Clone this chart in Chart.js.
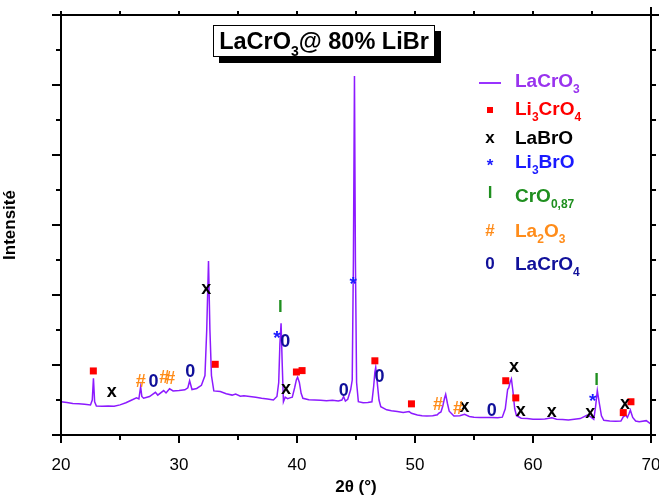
<!DOCTYPE html>
<html>
<head>
<meta charset="utf-8">
<script src="https://cdn.jsdelivr.net/npm/chart.js@4"></script>
<style>
  body { margin: 0; background: #fff; }
  #wrap { position: relative; width: 659px; height: 499px; font-family: "Liberation Sans", Arial, sans-serif; }
  #wrap canvas { position: absolute; left: 0; top: 0; }
  .titlebox {
    position: absolute; left: 213px; top: 25px; width: 220px; height: 30px;
    border: 1.5px solid #000; background: #fff; box-shadow: 6px 6px 0 #000;
    font-weight: bold; font-size: 23.5px; line-height: 30px; text-align: center;
  }
  .titlebox sub { font-size: 14px; vertical-align: -7px; }
  .leg { position: absolute; left: 470px; height: 22px; line-height: 22px; font-weight: bold; font-size: 19px; white-space: nowrap; }
  .leg .sym { position: absolute; left: 0; width: 40px; text-align: center; font-size: 17px; }
  .leg .lab { position: absolute; left: 45px; }
  .leg sub { font-size: 12px; vertical-align: -6px; }
  .legline { position: absolute; left: 479px; top: 82px; width: 22px; height: 2px; background: #9933ff; }
</style>
</head>
<body>
<div id="wrap">
  <canvas id="c" width="659" height="499"></canvas>
  <div class="titlebox">LaCrO<sub>3</sub>@ 80% LiBr</div>
  <div class="legline"></div>
  <div class="leg" style="top:70px;color:#9933ee"><span class="lab">LaCrO<sub>3</sub></span></div>
  <div class="leg" style="top:98px;color:#ff0000"><span class="sym"><span style="display:inline-block;width:6px;height:6px;background:#ff0000;vertical-align:middle"></span></span><span class="lab">Li<sub>3</sub>CrO<sub>4</sub></span></div>
  <div class="leg" style="top:127px;color:#000"><span class="sym">x</span><span class="lab">LaBrO</span></div>
  <div class="leg" style="top:151px;color:#1a1aff"><span class="sym" style="top:4px">*</span><span class="lab">Li<sub>3</sub>BrO</span></div>
  <div class="leg" style="top:185px;color:#1f8f1f"><span class="sym" style="top:-3px">l</span><span class="lab">CrO<sub>0,87</sub></span></div>
  <div class="leg" style="top:220px;color:#ff8c1a"><span class="sym">#</span><span class="lab">La<sub>2</sub>O<sub>3</sub></span></div>
  <div class="leg" style="top:253px;color:#10109a"><span class="sym">0</span><span class="lab">LaCrO<sub>4</sub></span></div>
</div>
<script>
// XRD pattern (2theta in degrees, intensity in arbitrary units)
const twoTheta = [
  20.0, 20.5, 21.0, 21.5, 22.0, 22.5, 22.65, 22.75, 22.85, 23.0, 23.5, 24.0, 24.5, 25.0, 25.5,
  26.0, 26.4, 26.6, 26.75, 26.85, 27.0, 27.5, 28.0, 28.2, 28.7, 28.9, 29.2, 29.5, 30.0, 30.5,
  30.75, 30.9, 31.1, 31.5, 31.9, 32.2, 32.35, 32.5, 32.62, 32.75, 32.95, 33.5, 34.0, 34.5, 34.8,
  35.2, 35.5, 36.0, 36.5, 37.0, 37.5, 38.0, 38.3, 38.45, 38.55, 38.65, 38.75, 38.85, 39.0, 39.2,
  39.4, 39.6, 39.8, 39.95, 40.05, 40.2, 40.35, 40.5, 41.0, 41.5, 42.0, 42.5, 43.0, 43.5, 43.8,
  43.95, 44.1, 44.3, 44.55, 44.68, 44.78, 44.87, 44.95, 45.05, 45.2, 45.6, 46.0, 46.35, 46.5, 46.6,
  46.67, 46.8, 46.95, 47.1, 47.6, 48.0, 48.5, 49.0, 49.5, 49.7, 50.2, 50.6, 51.0, 51.5, 51.9,
  52.0, 52.2, 52.35, 52.5, 52.6, 52.75, 52.9, 53.3, 53.8, 54.2, 54.6, 55.0, 55.5, 56.0, 56.5,
  57.0, 57.4, 57.65, 57.85, 57.95, 58.05, 58.17, 58.3, 58.45, 58.6, 59.0, 59.5, 60.0, 60.5, 61.0,
  61.6, 62.0, 62.5, 63.0, 63.5, 64.0, 64.6, 64.9, 65.15, 65.3, 65.45, 65.6, 65.8, 66.0, 66.5,
  67.0, 67.45, 67.65, 67.85, 68.0, 68.15, 68.25, 68.45, 68.7, 69.0, 69.6, 70.0
];
const intensity = [
  95, 93, 90, 89, 88, 86, 100, 162, 95, 83, 82, 83, 82, 86, 92,
  100, 106, 103, 138, 110, 105, 110, 122, 114, 127, 120, 132, 126, 127, 129,
  135, 155, 130, 133, 142, 170, 300, 497, 300, 170, 126, 124, 118, 114, 117,
  111, 112, 110, 108, 105, 103, 100, 110, 150, 260, 319, 200, 95, 108, 104,
  106, 108, 135, 158, 165, 150, 119, 105, 101, 100, 99, 98, 99, 97, 100,
  110, 97, 102, 130, 157, 500, 1026, 500, 150, 95, 92, 93, 95, 140, 180,
  193, 150, 100, 81, 72, 69, 67, 64, 67, 62, 57, 55, 54, 55, 58,
  62, 66, 82, 105, 116, 90, 68, 54, 55, 59, 53, 51, 50, 50, 50,
  49, 51, 75, 130, 135, 150, 160, 125, 75, 55, 48, 47, 45, 45, 46,
  49, 45, 44, 43, 45, 47, 57, 52, 45, 80, 127, 95, 55, 42, 40,
  39, 40, 52, 57, 50, 62, 71, 50, 40, 38, 41, 31
];

// phase markers [2theta, intensity]
const li3cro4 = [[22.74, 183], [33.07, 202], [39.95, 180], [40.43, 184], [46.6, 212], [49.7, 89], [57.69, 155], [58.54, 106], [67.65, 64], [68.3, 95]];
const labro = [[24.3, 122], [32.3, 417], [39.07, 131], [54.2, 78], [58.4, 192], [58.96, 67], [61.6, 64], [64.85, 62], [67.8, 88]];
const li3bro = [[38.3, 289], [44.76, 445], [65.05, 110]];
const cro087 = [[38.6, 369], [65.4, 160]];
const la2o3 = [[26.76, 157], [28.74, 167], [29.25, 164], [51.95, 90], [53.65, 79]];
const lacro4 = [[27.84, 155], [30.95, 183], [39.0, 271], [43.97, 131], [47.0, 169], [56.5, 74]];

const xTicks = [20, 25, 30, 35, 40, 45, 50, 55, 60, 65, 70];
const yTicks = [0, 100, 200, 300, 400, 500, 600, 700, 800, 900, 1000, 1100, 1200];

const FONT = '"Liberation Sans", Arial, sans-serif';

const framePlugin = {
  id: 'frame',
  afterDatasetsDraw(chart) {
    const { ctx, chartArea: a, scales: { x, y } } = chart;
    ctx.save();
    ctx.strokeStyle = '#000';
    ctx.lineWidth = 2;
    ctx.beginPath();
    ctx.moveTo(a.left, a.bottom + 8); ctx.lineTo(a.left, a.top - 1);
    ctx.moveTo(a.left - 9, a.top); ctx.lineTo(659, a.top);
    ctx.moveTo(a.right, a.top - 8); ctx.lineTo(a.right, a.bottom);
    ctx.moveTo(a.left, a.bottom); ctx.lineTo(a.right + 1, a.bottom);
    // x ticks, bottom outward, top outward
    xTicks.forEach(v => {
      const px = x.getPixelForValue(v);
      const len = v % 10 === 0 ? 8 : 5;
      ctx.moveTo(px, a.bottom); ctx.lineTo(px, a.bottom + len);
      ctx.moveTo(px, a.top); ctx.lineTo(px, a.top - 4);
    });
    // y ticks, left and right outward
    yTicks.forEach(v => {
      const py = y.getPixelForValue(v);
      const len = v % 200 === 0 ? 9 : 5;
      ctx.moveTo(a.left, py); ctx.lineTo(a.left - len, py);
      ctx.moveTo(a.right, py); ctx.lineTo(a.right + 5, py);
    });
    ctx.stroke();

    // phase markers
    ctx.fillStyle = '#ff0000';
    li3cro4.forEach(([t, v]) => {
      ctx.fillRect(x.getPixelForValue(t) - 3.5, y.getPixelForValue(v) - 3.5, 7, 7);
    });
    ctx.textAlign = 'center';
    ctx.textBaseline = 'alphabetic';
    const glyph = (list, ch, color, size, k) => {
      ctx.fillStyle = color;
      ctx.font = 'bold ' + size + 'px ' + FONT;
      list.forEach(([t, v]) => {
        ctx.fillText(ch, x.getPixelForValue(t), y.getPixelForValue(v) + k * size);
      });
    };
    glyph(labro, 'x', '#000', 18, 0.26);
    glyph(li3bro, '*', '#1a1aff', 19, 0.55);
    glyph(cro087, 'l', '#1f8f1f', 17, 0.36);
    glyph(la2o3, '#', '#ff8c1a', 18, 0.36);
    glyph(lacro4, '0', '#10109a', 18, 0.36);
    ctx.restore();
  }
};

new Chart(document.getElementById('c'), {
  type: 'line',
  data: {
    datasets: [{
      label: 'LaCrO3',
      data: twoTheta.map((t, i) => ({ x: t, y: intensity[i] })),
      borderColor: '#8c1aff',
      borderWidth: 1.5,
      pointRadius: 0,
      tension: 0,
      fill: false
    }]
  },
  options: {
    responsive: false,
    animation: false,
    layout: { padding: { left: 0, right: 8, top: 15, bottom: 0 } },
    plugins: { legend: { display: false }, tooltip: { enabled: false } },
    scales: {
      x: {
        type: 'linear',
        min: 20,
        max: 70,
        afterFit: s => { s.height = 64; s.paddingLeft = 0; s.paddingRight = 0; },
        afterBuildTicks: s => { s.ticks = xTicks.map(v => ({ value: v })); },
        grid: { display: false },
        border: { display: false },
        ticks: {
          padding: 12,
          color: '#000',
          font: { family: FONT, size: 17 },
          callback: v => (v % 10 === 0 ? v : '')
        },
        title: {
          display: true,
          text: '2θ (°)',
          color: '#000',
          font: { family: FONT, size: 17, weight: 'bold' },
          padding: { top: 0, bottom: 1 }
        }
      },
      y: {
        min: 0,
        max: 1200,
        afterFit: s => { s.width = 61; s.paddingTop = 0; s.paddingBottom = 0; },
        grid: { display: false },
        border: { display: false },
        ticks: { display: false },
        title: {
          display: true,
          text: 'Intensité',
          color: '#000',
          font: { family: FONT, size: 17, weight: 'bold' },
          padding: { top: 0, bottom: 7 }
        }
      }
    }
  },
  plugins: [framePlugin]
});
</script>
</body>
</html>
